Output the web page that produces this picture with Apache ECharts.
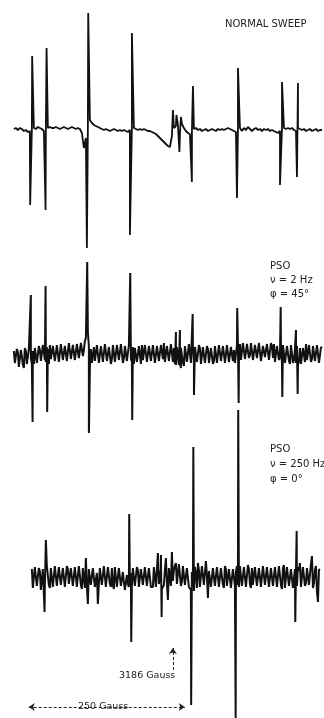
<!DOCTYPE html>
<html>
<head>
<meta charset="utf-8">
<title>ESR sweep</title>
<script src="https://cdn.jsdelivr.net/npm/echarts/dist/echarts.min.js"></script>
<style>
    html, body { margin: 0; padding: 0; background: #fff; }
    #esr { width: 324px; height: 718px; }
</style>
</head>
<body>
<div id="esr"></div>
<script>
// field in Gauss, signal in arbitrary units
var baseStep = 3.205;          // Gauss between baseline samples
var normalStart = 2931.2;
var pso2Start = 2931.2;
var pso250Start = 2960.0;

var normalBase = [
    1, 2, 0, 2, 1, -1, 0, -2, -1, 1,
    2, 1, 3, 2, 1, -1, 1, 2, 3, 2,
    2, 3, 2, 1, 2, 3, 2, 1, 2, 3,
    2, 1, 2, 1, -3, -18, -8, 4, 10, 7,
    5, 4, 3, 2, 1, 0, 1, 0, -1, 0,
    1, 0, -1, 0, -1, 0, -1, -2, 0, 3,
    2, 1, 0, 1, 0, 1, 0, -1, -1, -2,
    -3, -4, -6, -8, -10, -12, -14, -16, -17, -6,
    2, 4, 3, -4, 6, 2, -1, -3, -4, -2,
    1, 2, 0, 1, -1, 0, 1, -1, 0, 1,
    0, -1, 1, 0, 1, 0, 1, 2, 1, 0,
    -1, -2, 1, 2, -1, 2, 0, 3, 1, -1,
    1, 2, 0, 1, -1, 1, 0, 1, -1, 0,
    -1, -2, -3, -1, 1, 2, 1, 2, 1, 2,
    0, -1, 2, 1, 0, 1, -1, 0, 1, -1,
    0, 1, -1, 0, 0
];
var normalLines = [
    [2957.3, -75], [2960.5, 74],
    [2982.0, -80], [2983.6, 82],
    [3048.2, -118], [3050.3, 117],
    [3117.1, -105], [3120.3, 97],
    [3186.0, 20], [3188.4, 4], [3191.6, 15], [3194.0, 5],
    [3196.4, -22], [3198.8, 13], [3201.2, 6],
    [3216.4, -52], [3218.1, 44],
    [3288.6, -68], [3290.2, 62],
    [3357.5, -55], [3360.7, 48],
    [3384.7, -47], [3386.3, 47]
];

// PSO traces are noisy: two interleaved sample sets (on-step and half-step)
var pso2Base = [
    4, -10, 3, -14, -1, -13, 4, -11, 5, -9,
    -9, 6, -10, 5, -8, 8, -7, 6, 10, -6,
    11, -5, 9, -7, 12, -4, 10, -8, 11, -3,
    12, -4, 10, -2, 13, 5, 17, 23, -12, -8,
    8, -7, 9, -6, 10, -5, 9, -8, 10, -4,
    11, -6, 9, -7, 12, -3, 10, -5, 9, -7,
    -9, 8, -8, 7, 10, -6, 11, -5, 9, -8,
    10, -6, 11, -7, 8, 12, -5, 10, -8, 9,
    7, -10, 6, -8, 9, -11, 8, -6, 10, -9,
    -8, 9, -9, 7, -7, 10, -9, 6, -10, 8,
    -6, 10, -8, 9, -7, 11, -6, 8, -9, 10,
    5, -7, 9, 11, -5, 12, -2, 13, 0, 11,
    -4, 12, -2, 10, -5, 11, -1, 13, -4, 9,
    11, -6, 10, -2, -8, 9, -7, 10, -9, 8,
    -5, -8, -10, 7, -8, 8, 11, -6, 9, -4,
    11, -5, 9, -7, 7
];
var pso2Half = [
    -8, 6, -12, 5, -10, 7, -9, 6, -3, 4,
    7, -8, 9, -6, 10, -5, 8, -9, -4, 9,
    -6, 10, -7, 11, -5, 9, -6, 12, -4, 10,
    -5, 11, -3, 12, -1, 14, 19, 8, 6, -10,
    -6, 10, -8, 9, -7, 11, -6, 8, -9, 10,
    -7, 10, -5, 11, -8, 9, -6, 10, -4, 8,
    7, -7, 9, -9, -5, 10, -7, 9, -6, 10,
    -8, 9, -6, 10, -4, -7, 9, -6, 11, -7,
    -9, 8, -10, 7, -8, 9, -7, 11, -8, 8,
    8, -7, 10, -9, 8, -8, 9, -8, 7, -9,
    9, -8, 10, -6, 9, -8, 10, -7, 8, -6,
    -8, 10, -6, -5, 12, -4, 11, -3, 12, -5,
    10, -3, 12, -6, 9, -2, 11, -5, 12, -3,
    -7, 9, -5, 8, 10, -8, 9, -6, 10, -8,
    6, 9, -6, -9, 7, -7, -5, 10, -7, 9,
    -6, 10, -8, 8
];
var pso2Lines = [
    [2958.4, 60], [2961.2, -67],
    [2982.0, 69], [2984.6, -57],
    [3048.7, 93], [3051.4, -78],
    [3117.6, 82], [3120.8, -65],
    [3190.8, 23], [3192.4, -10], [3197.2, 25], [3198.8, -13],
    [3217.6, 41], [3219.7, -40],
    [3289.0, 47], [3291.3, -48],
    [3358.6, 48], [3361.2, -42],
    [3383.1, 25], [3385.8, -39]
];

var pso250Base = [
    9, -11, 12, -9, 7, -13, 10, -8, 11, -10,
    12, -7, 10, -9, 13, -6, 11, -10, 9, -8,
    12, -9, 10, -7, 13, -11, 9, 20, -26, 8,
    -9, 11, -8, -26, 10, -7, 12, -9, 11, -6,
    10, -11, 9, -8, 12, -10, -4, -13, -6, -8,
    -8, 9, -7, 8, -10, 7, -9, 10, -6, 9,
    -8, 11, -9, 25, -5, -11, -7, 20, -22, 9,
    26, 8, 15, -5, 13, -3, 11, -6, 12, -11,
    6, -13, 4, 15, -9, 12, -7, 17, -20, 9,
    -8, 11, -9, 10, -7, 12, -10, 9, -6, 11,
    -8, 10, 6, -7, 12, -8, 11, -9, 13, -6,
    10, -9, 12, -7, 11, -10, 13, -6, 9, -8,
    12, -9, 11, -7, 10, -11, 13, -8, 9, -10,
    8, -12, 6, 11, 15, -7, 13, -5, 12, -6,
    22, -5, 12, -24, 9
];
var pso250Half = [
    -10, 11, -8, 10, -12, 9, -9, 12, -7, 10,
    -9, 12, -8, 11, -7, 10, -9, 12, -6, 10,
    -8, 11, -9, 12, -7, 10, -10, -8, 9, -7,
    10, -9, 5, -6, 11, -8, 10, -7, 12, -9,
    -7, 11, -9, 10, -8, 6, -12, 3, -9, 5,
    10, -8, 11, -9, 9, -7, 11, -8, 10, -9,
    -9, 10, -8, -6, 9, -12, 8, -5, 10, -8,
    -3, 12, -6, 14, -8, 12, -7, 10, -9, -12,
    -8, 11, -10, 8, -8, 13, -9, 2, 7, -9,
    10, -8, 11, -9, 10, -7, 12, -8, 9, -10,
    9, -8, 12, -9, 10, -7, 11, -8, 9, -10,
    -7, 11, -8, 10, -9, 12, -7, 11, -9, 10,
    -8, 11, -9, 12, -7, 10, -10, 11, -8, 9,
    -10, 9, -8, 7, -9, 11, -8, 10, -7, 14,
    -10, 8, -14, 8
];
var pso250Lines = [
    [2980.4, -34], [2982.5, 38],
    [3116.0, 64], [3119.2, -64],
    [3166.8, 23], [3167.9, -39],
    [3215.2, -127], [3218.7, 131],
    [3286.5, -140], [3290.6, 168],
    [3382.0, -44], [3384.2, 47]
];

var fieldRange = [2909, 3428];
var markerField = 3186;
var scaleBar = [2955, 3205];   // 250 Gauss

function buildTrace(start, base, lines, half) {
    var pts = base.map(function (v, i) { return [start + i * baseStep, v]; });
    if (half) {
        pts = pts.concat(half.map(function (v, i) { return [start + (i + 0.5) * baseStep, v]; }));
    }
    return pts.concat(lines).sort(function (a, b) { return a[0] - b[0]; });
}

var chart = echarts.init(document.getElementById('esr'));
var font = '"DejaVu Sans", sans-serif';

function xAx(idx) {
    return { gridIndex: idx, type: 'value', min: fieldRange[0], max: fieldRange[1], show: false };
}
function yAx(idx, min, max) {
    return { gridIndex: idx, type: 'value', min: min, max: max, show: false };
}

var option = {
    backgroundColor: '#fff',
    animation: false,
    grid: [
        { left: 0, right: 0, top: 0, height: 250 },
        { left: 0, right: 0, top: 250, height: 190 },
        { left: 0, right: 0, top: 400, height: 318 }
    ],
    xAxis: [xAx(0), xAx(1), xAx(2)],
    yAxis: [yAx(0, -120, 130), yAx(1, -85, 105), yAx(2, -140, 178)],
    series: [
        {
            name: 'normal', type: 'line', xAxisIndex: 0, yAxisIndex: 0,
            showSymbol: false, silent: true, clip: false,
            lineStyle: { color: '#111', width: 1.8 },
            data: buildTrace(normalStart, normalBase, normalLines)
        },
        {
            name: 'pso 2Hz', type: 'line', xAxisIndex: 1, yAxisIndex: 1,
            showSymbol: false, silent: true, clip: false,
            lineStyle: { color: '#111', width: 2 },
            data: buildTrace(pso2Start, pso2Base, pso2Lines, pso2Half)
        },
        {
            name: 'pso 250Hz', type: 'line', xAxisIndex: 2, yAxisIndex: 2,
            showSymbol: false, silent: true, clip: false,
            lineStyle: { color: '#111', width: 2 },
            data: buildTrace(pso250Start, pso250Base, pso250Lines, pso250Half),
            markLine: {
                silent: true,
                animation: false,
                symbolSize: 6,
                data: [
                    [
                        { coord: [scaleBar[0], -129], symbol: 'arrow' },
                        { coord: [scaleBar[1], -129], symbol: 'arrow' }
                    ],
                    [
                        { coord: [markerField, -92], symbol: 'none' },
                        { coord: [markerField, -70], symbol: 'arrow' }
                    ]
                ],
                lineStyle: { color: '#222', type: [3, 2], width: 1 },
                label: { show: false }
            }
        }
    ],
    graphic: [
        { type: 'text', left: 225, top: 19, style: { text: 'NORMAL SWEEP', font: '10px ' + font, fill: '#222' } },
        { type: 'text', left: 270, top: 259, style: { text: 'PSO\nν = 2 Hz\nφ = 45°', font: '10px ' + font, fill: '#222', lineHeight: 14 } },
        { type: 'text', left: 270, top: 442, style: { text: 'PSO\nν = 250 Hz\nφ = 0°', font: '10px ' + font, fill: '#222', lineHeight: 15 } },
        { type: 'text', left: 119, top: 671, style: { text: '3186 Gauss', font: '9.5px ' + font, fill: '#222' } },
        { type: 'rect', left: 75, top: 701, shape: { width: 60, height: 12 }, style: { fill: '#fff' } },
        { type: 'text', left: 78, top: 702, style: { text: '250 Gauss', font: '9.5px ' + font, fill: '#222' } }
    ]
};

chart.setOption(option);
window.addEventListener('resize', function () {
    chart.resize();
});
</script>
</body>
</html>
